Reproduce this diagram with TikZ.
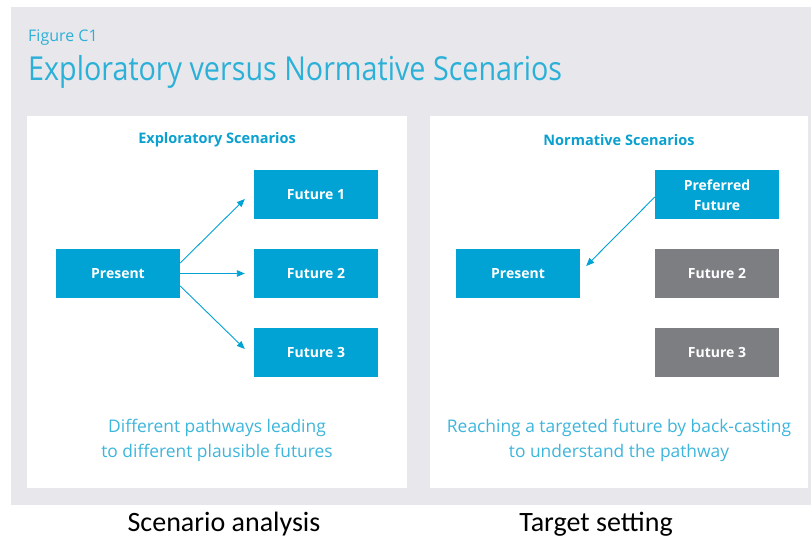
\documentclass[tikz,border=0pt]{standalone}
\usepackage{fontspec}
\setmainfont{Open Sans}
\newfontfamily\capfont{Carlito}
\usetikzlibrary{arrows.meta,calc}
\definecolor{bgGray}{HTML}{E8E8EC}
\definecolor{boxBlue}{HTML}{00A3D4}
\definecolor{boxGray}{HTML}{7D7E82}
\definecolor{titleBlue}{HTML}{2BB0D8}
\definecolor{headBlue}{HTML}{0AA0CF}
\definecolor{noteBlue}{HTML}{3DB6DC}
\begin{document}
\begin{tikzpicture}[x=1pt,y=-1pt,
  card/.style={fill=boxBlue, minimum width=124pt, minimum height=49pt,
    inner sep=0pt, text=white, align=center,
    font=\fontsize{14}{20}\selectfont\bfseries},
  greycard/.style={card, fill=boxGray},
  heading/.style={text=headBlue, font=\fontsize{14.5}{17}\selectfont\bfseries},
  note/.style={text=noteBlue, align=center, inner sep=0pt,
    font=\fontsize{17.4}{25}\selectfont},
  caption/.style={text=black, font=\capfont\fontsize{28}{32}\selectfont},
  flow/.style={draw=boxBlue, line width=0.9pt,
    -{Triangle[length=8pt,width=6.5pt]}}
]
\useasboundingbox (0,0) rectangle (811,540);
\fill[white] (0,0) rectangle (811,540);
% grey frame and the two white panels
\fill[bgGray] (11,7) rectangle (811,505);
\fill[white] (27,116) rectangle (407,488);
\fill[white] (430,116) rectangle (808,488);

% titles
\node[anchor=base west, inner sep=0pt, text=titleBlue,
  font=\fontsize{16}{18}\selectfont] (figno) at (28,42) {Figure C1};
\node[anchor=base west, inner sep=0pt, text=titleBlue,
  font=\fontsize{33}{36}\selectfont] (title) at (28,81)
  {\scalebox{0.87}[1]{Exploratory versus Normative Scenarios}};

% exploratory scenarios
\node[heading] (headL) at (217,140) {Exploratory Scenarios};
\node[card] (presL) at (118,273.5) {Present};
\node[card] (fut1) at (316,195) {Future 1};
\node[card] (fut2) at (316,273.5) {Future 2};
\node[card] (fut3) at (316,352) {Future 3};
\draw[flow] ($(presL.east)+(0,-10.5)$) -- ($(fut1.west)+(-9,4)$);
\draw[flow] (presL.east) -- ($(fut2.west)+(-9,0)$);
\draw[flow] ($(presL.east)+(0,12.5)$) -- ($(fut3.west)+(-9,-3)$);
\node[note] (noteL) at (217,440.5)
  {Different pathways leading\\to different plausible futures};

% normative scenarios
\node[heading] (headR) at (619,140) {Normative Scenarios};
\node[card] (presR) at (518,273.5) {Present};
\node[card] (pref) at (717,195) {Preferred\\Future};
\node[greycard] (gfut2) at (717,273.5) {Future 2};
\node[greycard] (gfut3) at (717,352) {Future 3};
\draw[flow] ($(pref.west)+(0,2)$) -- ($(presR.east)+(6,-7.5)$);
\node[note] (noteR) at (619,440.5)
  {Reaching a targeted future by back-casting\\to understand the pathway};

% captions under the frame
\node[caption] (capL) at (224,524) {Scenario analysis};
\node[caption] (capR) at (596,524) {Target setting};
\end{tikzpicture}
\end{document}
